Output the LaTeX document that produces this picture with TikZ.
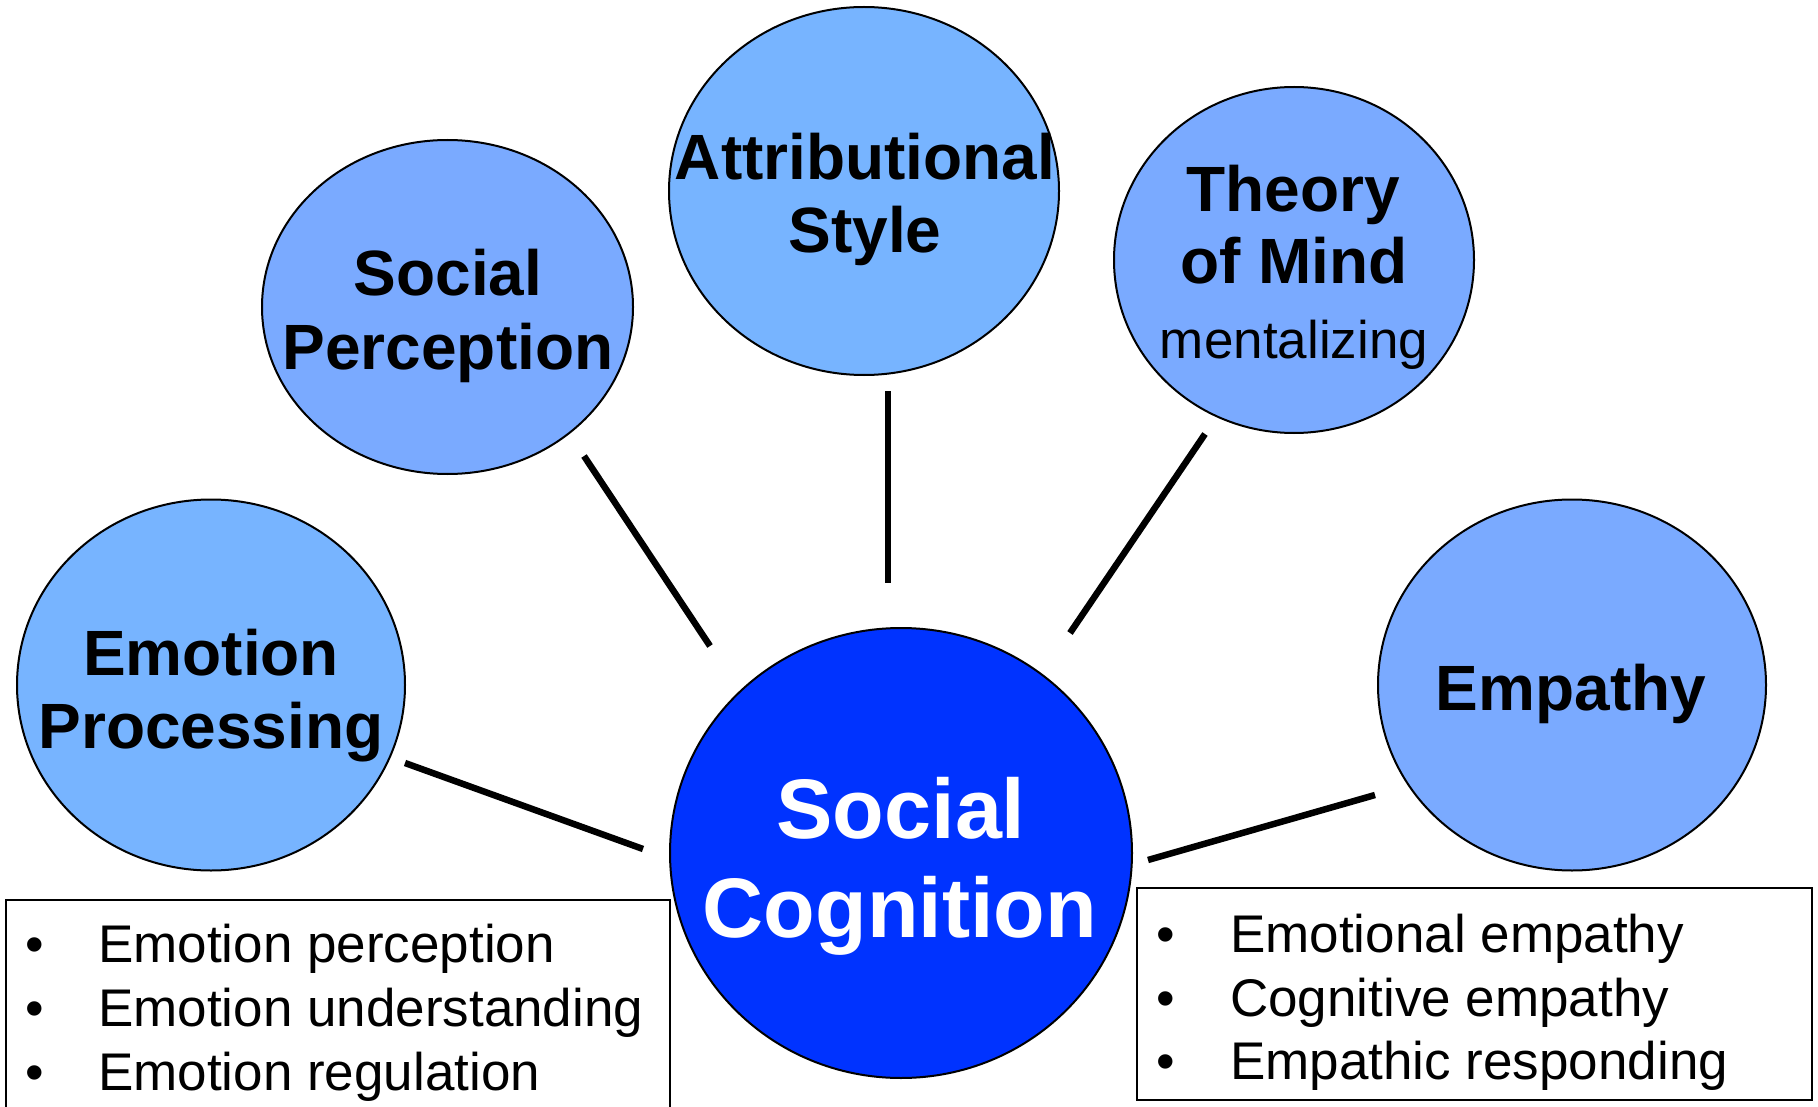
\documentclass[tikz,border=0pt]{standalone}
\usepackage{fontspec}
\setmainfont{Liberation Sans}
\usetikzlibrary{shapes.geometric}
\definecolor{lightblueA}{HTML}{7AAAFF}
\definecolor{lightblueB}{HTML}{77B4FF}
\definecolor{deepblue}{HTML}{0033FF}
\tikzset{
  bubble/.style={ellipse, draw=black, line width=2pt, inner sep=0pt},
  boldtxt/.style={anchor=base, inner sep=0pt, font=\fontsize{64}{73}\selectfont\bfseries},
  bigtxt/.style={anchor=base, inner sep=0pt, text=white, font=\fontsize{84.5}{98}\selectfont\bfseries},
  regtxt/.style={anchor=base, inner sep=0pt, font=\fontsize{53}{64}\selectfont},
  itemtxt/.style={anchor=base west, inner sep=0pt, font=\fontsize{53}{64}\selectfont},
  bullettxt/.style={anchor=base, inner sep=0pt, font=\fontsize{53}{64}\selectfont},
  listbox/.style={draw=black, line width=2pt},
  link/.style={line width=6.5pt}
}
\begin{document}
\begin{tikzpicture}[x=1pt,y=-1pt]
\useasboundingbox (0,0) rectangle (1818,1107);
% list boxes
\draw[listbox] (6,1125) -- (6,900) -- (670,900) -- (670,1125);
\draw[listbox] (1137,888) rectangle (1812,1100);
% bubbles
\node[bubble, fill=lightblueB, minimum width=388pt, minimum height=371pt] (ep) at (211,685) {};
\node[bubble, fill=lightblueA, minimum width=371pt, minimum height=334pt] (sp) at (447.5,307) {};
\node[bubble, fill=lightblueB, minimum width=390pt, minimum height=368pt] (as) at (864,191) {};
\node[bubble, fill=lightblueA, minimum width=360pt, minimum height=346pt] (tom) at (1294,260) {};
\node[bubble, fill=lightblueA, minimum width=388pt, minimum height=371pt] (emp) at (1572,685) {};
\node[bubble, fill=deepblue, minimum width=462pt, minimum height=450pt] (sc) at (901,853) {};
% connector end points
\coordinate (l1a) at (405,763); \coordinate (l1b) at (643,849);
\coordinate (l2a) at (584,456); \coordinate (l2b) at (710,646);
\coordinate (l3a) at (888,391); \coordinate (l3b) at (888,583);
\coordinate (l4a) at (1205,434); \coordinate (l4b) at (1070,633);
\coordinate (l5a) at (1375,795); \coordinate (l5b) at (1148,860);
\draw[link] (l1a) -- (l1b);
\draw[link] (l2a) -- (l2b);
\draw[link] (l3a) -- (l3b);
\draw[link] (l4a) -- (l4b);
\draw[link] (l5a) -- (l5b);
% bubble texts
\node[boldtxt] (ep1) at (211,675) {Emotion};
\node[boldtxt] (ep2) at (211,748) {Processing};
\node[boldtxt] (sp1) at (448,296) {Social};
\node[boldtxt] (sp2) at (448,370) {Perception};
\node[boldtxt] (as1) at (865,180) {Attributional};
\node[boldtxt] (as2) at (865,253) {Style};
\node[boldtxt] (tom1) at (1293,212) {Theory};
\node[boldtxt] (tom2) at (1294,284) {of Mind};
\node[regtxt] (tom3) at (1294,358) {mentalizing};
\node[boldtxt] (emp1) at (1571,710) {Empathy};
\node[bigtxt] (sc1) at (901,838) {Social};
\node[bigtxt] (sc2) at (900,937) {Cognition};
% left list
\node[bullettxt] (lb1) at (35,962) {•};
\node[bullettxt] (lb2) at (35,1026) {•};
\node[bullettxt] (lb3) at (35,1090) {•};
\node[itemtxt] (li1) at (98,962) {Emotion perception};
\node[itemtxt] (li2) at (98,1026) {Emotion understanding};
\node[itemtxt] (li3) at (98,1090) {Emotion regulation};
% right list
\node[bullettxt] (rb1) at (1166,952) {•};
\node[bullettxt] (rb2) at (1166,1016) {•};
\node[bullettxt] (rb3) at (1166,1079) {•};
\node[itemtxt] (ri1) at (1230,952) {Emotional empathy};
\node[itemtxt] (ri2) at (1230,1016) {Cognitive empathy};
\node[itemtxt] (ri3) at (1230,1079) {Empathic responding};
\end{tikzpicture}
\end{document}
